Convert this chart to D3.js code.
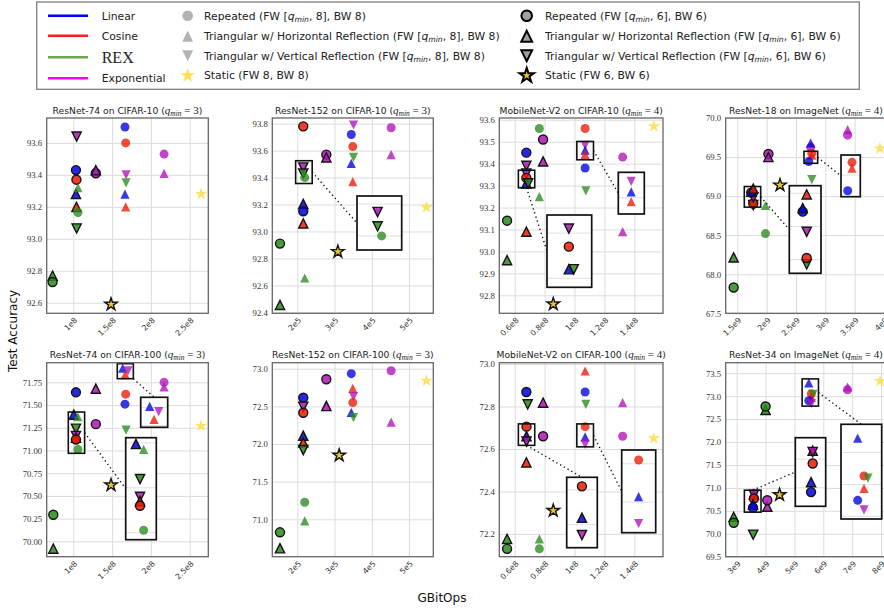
<!DOCTYPE html>
<html>
<head>
<meta charset="utf-8">
<script src="https://cdn.jsdelivr.net/npm/d3@7"></script>
<style>
  html, body { margin: 0; padding: 0; background: #fff; }
  svg { display: block; }
</style>
</head>
<body>
<svg id="chart" width="884" height="614"></svg>
<script>
// ---------------- data ----------------
// schedules (colour families) and precision schemes (marker families)
const schedules = ["Linear", "Cosine", "REX", "Exponential"];
const scheduleCodes = ["L", "C", "R", "E"];
const schemes = ["Repeated", "Triangular w/ Horizontal Reflection", "Triangular w/ Vertical Reflection", "Static"];
const schemeCodes = ["rep", "hor", "ver", "sta"];
const bitWidths = [8, 6];

const panelTitles = [
  "ResNet-74 on CIFAR-10", "ResNet-152 on CIFAR-10", "MobileNet-V2 on CIFAR-10", "ResNet-18 on ImageNet",
  "ResNet-74 on CIFAR-100", "ResNet-152 on CIFAR-100", "MobileNet-V2 on CIFAR-100", "ResNet-34 on ImageNet"
];
const qMin = [3, 3, 4, 4, 3, 3, 4, 4];

// each point: [schedule, scheme, forward bits, GBitOps, test accuracy]
const resnet74Cifar10 = [
  ["E","ver",6,1.043e8,93.64], ["L","rep",6,1.034e8,93.43], ["C","rep",6,1.04e8,93.37],
  ["L","hor",6,1.034e8,93.28], ["C","hor",6,1.04e8,93.20], ["R","ver",6,1.043e8,93.065],
  ["E","rep",6,1.29e8,93.41], ["E","hor",6,1.29e8,93.43], ["R","hor",6,0.733e8,92.77],
  ["R","rep",6,0.733e8,92.73], ["S","sta",6,1.486e8,92.59],
  ["L","rep",8,1.666e8,93.70], ["C","rep",8,1.675e8,93.60], ["E","rep",8,2.17e8,93.53],
  ["E","hor",8,2.17e8,93.41], ["E","ver",8,1.68e8,93.40], ["R","ver",8,1.68e8,93.35],
  ["L","hor",8,1.666e8,93.28], ["C","hor",8,1.675e8,93.20], ["R","hor",8,1.06e8,93.32],
  ["R","rep",8,1.06e8,93.165], ["S","sta",8,2.647e8,93.28]
];
const resnet152Cifar10 = [
  ["C","rep",6,2.16e5,93.78], ["E","rep",6,2.78e5,93.57], ["E","hor",6,2.78e5,93.55],
  ["E","ver",6,2.16e5,93.475], ["R","ver",6,2.16e5,93.43], ["L","hor",6,2.16e5,93.205],
  ["L","rep",6,2.16e5,93.15], ["C","hor",6,2.16e5,93.06], ["R","rep",6,1.535e5,92.91],
  ["R","hor",6,1.535e5,92.455], ["S","sta",6,3.09e5,92.85],
  ["E","ver",8,3.51e5,93.79], ["E","rep",8,4.52e5,93.77], ["L","rep",8,3.45e5,93.72],
  ["C","rep",8,3.49e5,93.63], ["E","hor",8,4.52e5,93.57], ["R","ver",8,3.51e5,93.55],
  ["L","hor",8,3.45e5,93.505], ["C","hor",8,3.49e5,93.37], ["R","rep",8,2.2e5,93.40],
  ["R","hor",8,2.2e5,92.655], ["S","sta",8,5.47e5,93.18]
];
const mobilenetCifar10 = [
  ["E","rep",6,0.79e8,93.51], ["L","rep",6,0.678e8,93.45], ["E","hor",6,0.79e8,93.41],
  ["E","ver",6,0.678e8,93.39], ["E","ver",6,0.678e8,93.355], ["C","rep",6,0.678e8,93.335],
  ["L","hor",6,0.678e8,93.31], ["R","ver",6,0.69e8,93.31], ["R","rep",6,0.549e8,93.14],
  ["C","hor",6,0.678e8,93.09], ["R","hor",6,0.549e8,92.96], ["S","sta",6,0.858e8,92.76],
  ["R","rep",8,0.765e8,93.56], ["C","rep",8,1.071e8,93.56], ["E","rep",8,1.322e8,93.43],
  ["L","rep",8,1.071e8,93.38], ["E","ver",8,1.071e8,93.483], ["L","hor",8,1.071e8,93.462],
  ["C","hor",8,1.071e8,93.442], ["R","ver",8,1.076e8,93.276], ["R","hor",8,0.765e8,93.25],
  ["E","hor",8,1.322e8,93.09], ["S","sta",8,1.531e8,93.57]
];
const resnet18Imagenet = [
  ["E","rep",6,2.03e9,69.54], ["E","hor",6,2.03e9,69.50], ["R","ver",6,1.772e9,68.886],
  ["C","rep",6,1.772e9,68.905], ["E","ver",6,1.772e9,68.984], ["L","rep",6,1.737e9,69.045],
  ["L","hor",6,1.737e9,69.055], ["C","hor",6,1.772e9,69.097], ["R","hor",6,1.4375e9,68.215],
  ["R","rep",6,1.4375e9,67.83], ["S","sta",6,2.227e9,69.14],
  ["E","hor",8,3.38e9,69.85], ["E","rep",8,3.38e9,69.78], ["E","rep",8,2.75e9,69.625],
  ["L","hor",8,2.75e9,69.68], ["C","rep",8,2.769e9,69.547], ["C","hor",8,2.769e9,69.525],
  ["L","rep",8,2.717e9,69.442], ["R","ver",8,2.77e9,69.21], ["R","hor",8,1.98e9,68.88],
  ["R","rep",8,1.98e9,68.52], ["S","sta",8,3.93e9,69.61]
];
const resnet74Cifar100 = [
  ["L","rep",6,1.034e8,71.64], ["E","hor",6,1.29e8,71.68], ["E","rep",6,1.29e8,71.29],
  ["L","hor",6,1.006e8,71.395], ["R","ver",6,1.034e8,71.239], ["E","ver",6,1.034e8,71.16],
  ["C","hor",6,1.034e8,71.14], ["C","rep",6,1.034e8,71.12], ["R","hor",6,0.742e8,69.92],
  ["R","rep",6,0.742e8,70.293], ["S","sta",6,1.486e8,70.62],
  ["L","hor",8,1.636e8,71.905], ["E","ver",8,1.705e8,71.876], ["C","hor",8,1.669e8,71.834],
  ["E","rep",8,2.17e8,71.75], ["E","hor",8,2.17e8,71.70], ["C","rep",8,1.675e8,71.62],
  ["L","rep",8,1.666e8,71.51], ["R","ver",8,1.68e8,71.225], ["R","hor",8,1.059e8,71.371],
  ["R","rep",8,1.059e8,71.011], ["S","sta",8,2.647e8,71.27]
];
const resnet152Cifar100 = [
  ["L","rep",6,2.16e5,72.615], ["E","rep",6,2.78e5,72.86], ["E","hor",6,2.78e5,72.505],
  ["E","ver",6,2.16e5,72.495], ["C","rep",6,2.16e5,72.415], ["L","hor",6,2.16e5,72.11],
  ["C","hor",6,2.16e5,72.02], ["R","ver",6,2.16e5,71.92], ["R","rep",6,1.535e5,70.827],
  ["R","hor",6,1.535e5,70.615], ["S","sta",6,3.125e5,71.85],
  ["L","rep",8,3.45e5,72.934], ["E","rep",8,4.52e5,72.973], ["C","hor",8,3.49e5,72.74],
  ["E","ver",8,3.51e5,72.63], ["C","rep",8,3.49e5,72.55], ["L","hor",8,3.45e5,72.42],
  ["R","ver",8,3.51e5,72.35], ["E","hor",8,4.52e5,72.29], ["R","rep",8,2.2e5,71.226],
  ["R","hor",8,2.2e5,70.98], ["S","sta",8,5.47e5,72.84]
];
const mobilenetCifar100 = [
  ["L","rep",6,0.678e8,72.868], ["E","hor",6,0.79e8,72.818], ["R","ver",6,0.687e8,72.81],
  ["E","rep",6,0.79e8,72.66], ["C","rep",6,0.679e8,72.705], ["L","hor",6,0.679e8,72.66],
  ["E","ver",6,0.679e8,72.635], ["C","hor",6,0.678e8,72.537], ["R","hor",6,0.549e8,72.177],
  ["R","rep",6,0.549e8,72.13], ["S","sta",6,0.858e8,72.31],
  ["C","hor",8,1.071e8,72.967], ["L","rep",8,1.071e8,72.868], ["R","ver",8,1.076e8,72.81],
  ["E","hor",8,1.322e8,72.818], ["C","rep",8,1.071e8,72.705], ["L","hor",8,1.071e8,72.657],
  ["E","ver",8,1.071e8,72.622], ["E","rep",8,1.322e8,72.66], ["R","hor",8,0.765e8,72.177],
  ["R","rep",8,0.765e8,72.13], ["S","sta",8,1.531e8,72.65]
];
const resnet34Imagenet = [
  ["R","hor",6,4.0e9,72.70], ["R","rep",6,4.0e9,72.775], ["C","hor",6,3.596e9,70.86],
  ["E","ver",6,3.596e9,70.85], ["C","rep",6,3.596e9,70.77], ["L","hor",6,3.565e9,70.64],
  ["L","rep",6,3.565e9,70.57], ["E","hor",6,4.06e9,70.59], ["E","rep",6,4.06e9,70.73],
  ["R","hor",6,2.896e9,70.37], ["R","rep",6,2.896e9,70.24], ["R","ver",6,3.57e9,69.98],
  ["S","sta",6,4.485e9,70.85],
  ["L","hor",8,5.498e9,73.29], ["C","rep",8,5.586e9,73.053], ["R","ver",8,5.641e9,73.04],
  ["C","hor",8,5.586e9,72.975], ["L","rep",8,5.498e9,72.90], ["E","ver",8,5.586e9,72.84],
  ["E","hor",8,6.838e9,73.2], ["E","rep",8,6.838e9,73.14], ["S","sta",8,7.965e9,73.33]
];

// tick values and labels
const xTicksCifarR74 = [1e8, 1.5e8, 2e8, 2.5e8];
const xLabelsCifarR74 = ["1e8", "1.5e8", "2e8", "2.5e8"];
const xTicksCifarR152 = [2e5, 3e5, 4e5, 5e5];
const xLabelsCifarR152 = ["2e5", "3e5", "4e5", "5e5"];
const xTicksMobile = [0.6e8, 0.8e8, 1e8, 1.2e8, 1.4e8];
const xLabelsMobile = ["0.6e8", "0.8e8", "1e8", "1.2e8", "1.4e8"];
const xTicksR18 = [1.5e9, 2e9, 2.5e9, 3e9, 3.5e9, 4e9];
const xLabelsR18 = ["1.5e9", "2e9", "2.5e9", "3e9", "3.5e9", "4e9"];
const xTicksR34 = [3e9, 4e9, 5e9, 6e9, 7e9, 8e9];
const xLabelsR34 = ["3e9", "4e9", "5e9", "6e9", "7e9", "8e9"];

const yLabels1 = ["92.6", "92.8", "93.0", "93.2", "93.4", "93.6"];
const yLabels2 = ["92.4", "92.6", "92.8", "93.0", "93.2", "93.4", "93.6", "93.8"];
const yLabels3 = ["92.8", "92.9", "93.0", "93.1", "93.2", "93.3", "93.4", "93.5", "93.6"];
const yLabels4 = ["67.5", "68.0", "68.5", "69.0", "69.5", "70.0"];
const yLabels5 = ["70.00", "70.25", "70.50", "70.75", "71.00", "71.25", "71.50", "71.75"];
const yLabels6 = ["71.0", "71.5", "72.0", "72.5", "73.0"];
const yLabels7 = ["72.2", "72.4", "72.6", "72.8", "73.0"];
const yLabels8 = ["69.5", "70.0", "70.5", "71.0", "71.5", "72.0", "72.5", "73.0", "73.5"];

// ---------------- layout & style ----------------
const svg = d3.select("#chart");
svg.append("rect").attr("width", 884).attr("height", 614).attr("fill", "#fff");
const defs = svg.append("defs");

const colX = [[46.7, 208.3], [272.3, 433.3], [499.3, 663], [725.7, 888]];
const rowY = [[118, 313.3], [362.7, 556.7]];
const xDomains = [
  [0.657e8, 2.74e8], [1.3285e5, 5.653e5], [0.497e8, 1.592e8], [1.302e9, 4.068e9],
  [0.657e8, 2.74e8], [1.3285e5, 5.653e5], [0.497e8, 1.592e8], [2.619e9, 8.24e9]
];
const yDomains = [
  [92.534, 93.756], [92.393, 93.842], [92.718, 93.608], [67.5, 70.0],
  [69.831, 71.966], [70.503, 73.08], [72.093, 73.006], [69.5, 73.73]
];
// zoomed views: source window in data units, target box in pixels, connector sides
const insetLayouts = [
  [],
  [{ src: [1.955e5, 2.40e5, 93.356, 93.525], dst: [357, 196, 401.7, 250], from: "r", to: "l" }],
  [{ src: [0.6245e8, 0.734e8, 93.29, 93.37], dst: [547, 215, 591.7, 287.3], from: "b", to: "l" },
   { src: [1.0156e8, 1.127e8, 93.4175, 93.501], dst: [618.3, 172.3, 644.3, 214], from: "r", to: "l" }],
  [{ src: [1.619e9, 1.898e9, 68.859, 69.123], dst: [789.3, 185.7, 821, 273.3], from: "r", to: "l" },
   { src: [2.636e9, 2.869e9, 69.42, 69.574], dst: [841, 155, 860.3, 196.7], from: "r", to: "l" }],
  [{ src: [0.9355e8, 1.146e8, 70.969, 71.423], dst: [125.7, 437.7, 156.3, 539.7], from: "r", to: "l" },
   { src: [1.567e8, 1.774e8, 71.79, 71.955], dst: [140.7, 397.3, 167.7, 427.3], from: "br", to: "t" }],
  [],
  [{ src: [0.6245e8, 0.734e8, 72.617, 72.718], dst: [566.7, 477.3, 597.3, 547.7], from: "b", to: "t" },
   { src: [1.0156e8, 1.127e8, 72.61, 72.718], dst: [621.7, 450, 655.7, 532.7], from: "r", to: "l" }],
  [{ src: [3.266e9, 3.843e9, 70.471, 70.95], dst: [795.3, 437.7, 825.7, 506.3], from: "t", to: "l" },
   { src: [5.266e9, 5.832e9, 72.783, 73.377], dst: [841, 424.3, 881.7, 519], from: "r", to: "t" }]
];

const markerColor = { L: "#0000e0", C: "#ea1a05", R: "#2a8a1c", E: "#b012b8" };
const legendLineColor = ["#0000ff", "#ff1f1f", "#6aa84f", "#ff00ff"];
const SANS = "DejaVu Sans, Verdana, sans-serif";
const SERIF = "Liberation Serif, Times New Roman, serif";

// marker shapes (matplotlib-like square-bbox triangles)
const triUp = { draw(ctx, size) { const h = Math.sqrt(size) / 2; ctx.moveTo(0, -h); ctx.lineTo(h, h); ctx.lineTo(-h, h); ctx.closePath(); } };
const triDown = { draw(ctx, size) { const h = Math.sqrt(size) / 2; ctx.moveTo(0, h); ctx.lineTo(h, -h); ctx.lineTo(-h, -h); ctx.closePath(); } };
const symbolTypes = { rep: d3.symbolCircle, hor: triUp, ver: triDown, sta: d3.symbolStar };
const symbolSizes = { rep: Math.PI * 4.5 * 4.5, hor: 9.2 * 9.2, ver: 9.2 * 9.2, sta: 6.6 * 6.6 / 0.8908130915 };

function markerPath(scheme, k) {
  return d3.symbol().type(symbolTypes[scheme]).size(symbolSizes[scheme] * k * k)();
}
function styleMarker(sel) {
  sel.attr("fill", d => d[1] === "sta" ? (d[2] === 6 ? "#ebc42c" : "#ffd83a") : markerColor[d[0]])
     .attr("fill-opacity", d => d[1] === "sta" ? (d[2] === 6 ? 1 : 0.78) : (d[2] === 6 ? 0.85 : 0.78))
     .attr("stroke", d => d[2] === 6 ? "#141414" : "none")
     .attr("stroke-width", d => d[2] === 6 ? 1.4 : 0);
}
function drawMarkers(g, pts, x, y, clipId) {
  g.append("g").attr("clip-path", `url(#${clipId})`)
    .selectAll("path").data(pts).join("path")
    .attr("transform", d => `translate(${x(d[3])},${y(d[4])})`)
    .attr("d", d => markerPath(d[1], 1))
    .call(styleMarker);
}
function anchorPoint(b, side) {
  const [x0, y0, x1, y1] = b;
  const cx = (x0 + x1) / 2, cy = (y0 + y1) / 2;
  if (side === "r") return [x1, cy];
  if (side === "l") return [x0, cy];
  if (side === "t") return [cx, y0];
  if (side === "b") return [cx, y1];
  if (side === "br") return [x1, y1];
  return [cx, cy];
}

function drawPanel(idx, pts, xTicks, xLabels, yLabels) {
  const col = idx % 4, row = Math.floor(idx / 4);
  const [x0, x1] = colX[col], [y0, y1] = rowY[row];
  const x = d3.scaleLinear().domain(xDomains[idx]).range([x0, x1]);
  const y = d3.scaleLinear().domain(yDomains[idx]).range([y1, y0]);
  const yTicks = yLabels.map(Number);
  const g = svg.append("g");

  const clipId = "clip-main-" + idx;
  defs.append("clipPath").attr("id", clipId).append("rect")
    .attr("x", x0).attr("y", y0).attr("width", x1 - x0).attr("height", y1 - y0);

  // grid + tick labels (bottom)
  const gx = g.append("g").attr("transform", `translate(0,${y1})`)
    .call(d3.axisBottom(x).tickValues(xTicks).tickSize(-(y1 - y0)).tickFormat((d, i) => xLabels[i]));
  gx.select(".domain").remove();
  gx.selectAll(".tick line").attr("stroke", "#dcdcdc").attr("stroke-width", 1);
  gx.selectAll(".tick text")
    .attr("font-family", SANS).attr("font-size", 7.8).attr("fill", "#333")
    .attr("text-anchor", "end").attr("x", 4).attr("y", 7.5).attr("dy", 0)
    .attr("transform", "rotate(-45,4,7.5)");

  // grid + tick labels (left)
  const gy = g.append("g").attr("transform", `translate(${x0},0)`)
    .call(d3.axisLeft(y).tickValues(yTicks).tickSize(-(x1 - x0)).tickFormat((d, i) => yLabels[i]));
  gy.select(".domain").remove();
  gy.selectAll(".tick line").attr("stroke", "#dcdcdc").attr("stroke-width", 1);
  gy.selectAll(".tick text")
    .attr("font-family", SERIF).attr("font-size", 8.7).attr("fill", "#333")
    .attr("x", -4.5).attr("dy", "0.33em");

  drawMarkers(g, pts, x, y, clipId);

  // zoomed views
  insetLayouts[idx].forEach((ins, k) => {
    const [sx0, sx1, sy0, sy1] = ins.src;
    const [dx0, dy0, dx1, dy1] = ins.dst;
    const small = [x(sx0), y(sy1), x(sx1), y(sy0)];
    const a = anchorPoint(small, ins.from), b = anchorPoint(ins.dst, ins.to);
    g.append("line").attr("x1", a[0]).attr("y1", a[1]).attr("x2", b[0]).attr("y2", b[1])
      .attr("stroke", "#111").attr("stroke-width", 1.4).attr("stroke-dasharray", "1.3,3");
    g.append("rect").attr("x", small[0]).attr("y", small[1])
      .attr("width", small[2] - small[0]).attr("height", small[3] - small[1])
      .attr("fill", "none").attr("stroke", "#111").attr("stroke-width", 1.6);

    const xi = d3.scaleLinear().domain([sx0, sx1]).range([dx0, dx1]);
    const yi = d3.scaleLinear().domain([sy0, sy1]).range([dy1, dy0]);
    const icid = `clip-inset-${idx}-${k}`;
    defs.append("clipPath").attr("id", icid).append("rect")
      .attr("x", dx0).attr("y", dy0).attr("width", dx1 - dx0).attr("height", dy1 - dy0);
    const gi = g.append("g");
    gi.append("rect").attr("x", dx0).attr("y", dy0).attr("width", dx1 - dx0).attr("height", dy1 - dy0)
      .attr("fill", "#fff");
    gi.append("g").attr("clip-path", `url(#${icid})`)
      .selectAll("line").data(yi.ticks(2)).join("line")
      .attr("x1", dx0).attr("x2", dx1).attr("y1", d => yi(d)).attr("y2", d => yi(d))
      .attr("stroke", "#e0e0e0").attr("stroke-width", 1);
    drawMarkers(gi, pts, xi, yi, icid);
    gi.append("rect").attr("x", dx0).attr("y", dy0).attr("width", dx1 - dx0).attr("height", dy1 - dy0)
      .attr("fill", "none").attr("stroke", "#111").attr("stroke-width", 1.7);
  });

  // frame
  g.append("rect").attr("x", x0).attr("y", y0).attr("width", x1 - x0).attr("height", y1 - y0)
    .attr("fill", "none").attr("stroke", "#666").attr("stroke-width", 1.3);

  // title with math part
  const t = g.append("text").attr("x", (x0 + Math.min(x1, 884)) / 2 + (col === 3 ? 1 : 0)).attr("y", y0 - 4.5)
    .attr("text-anchor", "middle").attr("font-family", SANS).attr("font-size", 9.2).attr("fill", "#222");
  t.append("tspan").text(panelTitles[idx] + " (");
  t.append("tspan").attr("font-family", SERIF).attr("font-style", "italic").attr("font-size", 11).text("q");
  t.append("tspan").attr("font-family", SERIF).attr("font-style", "italic").attr("font-size", 7.5).attr("dy", 2).text("min");
  t.append("tspan").attr("font-family", SERIF).attr("font-size", 11).attr("dy", -2).text(" = " + qMin[idx]);
  t.append("tspan").text(")");
}

const panelData = [resnet74Cifar10, resnet152Cifar10, mobilenetCifar10, resnet18Imagenet,
                   resnet74Cifar100, resnet152Cifar100, mobilenetCifar100, resnet34Imagenet];
const panelXTicks = [xTicksCifarR74, xTicksCifarR152, xTicksMobile, xTicksR18,
                     xTicksCifarR74, xTicksCifarR152, xTicksMobile, xTicksR34];
const panelXLabels = [xLabelsCifarR74, xLabelsCifarR152, xLabelsMobile, xLabelsR18,
                      xLabelsCifarR74, xLabelsCifarR152, xLabelsMobile, xLabelsR34];
const panelYLabels = [yLabels1, yLabels2, yLabels3, yLabels4, yLabels5, yLabels6, yLabels7, yLabels8];

panelData.forEach((pts, i) => drawPanel(i, pts, panelXTicks[i], panelXLabels[i], panelYLabels[i]));

// axis titles
svg.append("text").attr("transform", "translate(16.5,331) rotate(-90)")
  .attr("text-anchor", "middle").attr("font-family", SANS).attr("font-size", 12).attr("fill", "#111")
  .text("Test Accuracy");
svg.append("text").attr("x", 442).attr("y", 602)
  .attr("text-anchor", "middle").attr("font-family", SANS).attr("font-size", 12).attr("fill", "#111")
  .text("GBitOps");

// ---------------- legend ----------------
const lg = svg.append("g");
lg.append("rect").attr("x", 36.7).attr("y", 2).attr("width", 822.6).attr("height", 87.3)
  .attr("fill", "#fff").attr("stroke", "#7d7d7d").attr("stroke-width", 1.3);

const lineRows = [15.7, 35.7, 57.3, 78.3];
schedules.forEach((s, i) => {
  lg.append("line").attr("x1", 48).attr("x2", 88).attr("y1", lineRows[i]).attr("y2", lineRows[i])
    .attr("stroke", legendLineColor[i]).attr("stroke-width", 2.6);
  const isRex = s === "REX";
  lg.append("text").attr("x", 101.7).attr("y", lineRows[i]).attr("dy", isRex ? "0.34em" : "0.36em")
    .attr("font-family", isRex ? SERIF : SANS).attr("font-size", isRex ? 16 : 10.8).attr("fill", "#222")
    .text(s);
});

const schemeRows = [15.8, 36.2, 55.8, 75.5];
const legendCols = [{ mx: 187.7, tx: 204 }, { mx: 526.7, tx: 545 }];
bitWidths.forEach((bits, c) => {
  const { mx, tx } = legendCols[c];
  schemes.forEach((name, r) => {
    const code = schemeCodes[r];
    const yy = schemeRows[r];
    const isStatic = code === "sta";
    lg.append("path")
      .attr("transform", `translate(${mx},${yy})`)
      .attr("d", markerPath(code, isStatic ? 1.15 : 1.18))
      .attr("fill", isStatic ? (bits === 6 ? "#ebc42c" : "#ffd83a") : (bits === 6 ? "#a0a0a0" : "#b3b3b3"))
      .attr("fill-opacity", isStatic && bits === 8 ? 0.85 : 1)
      .attr("stroke", bits === 6 ? "#000" : "none")
      .attr("stroke-width", bits === 6 ? 2 : 0);
    const t = lg.append("text").attr("x", tx).attr("y", yy).attr("dy", "0.36em")
      .attr("font-family", SANS).attr("font-size", 10.8).attr("fill", "#222");
    if (isStatic) {
      t.text(`${name} (FW ${bits}, BW ${bits})`);
    } else {
      t.append("tspan").text(`${name} (FW [`);
      t.append("tspan").attr("font-style", "italic").text("q");
      t.append("tspan").attr("font-style", "italic").attr("font-size", 7.6).attr("dy", 2.4).text("min");
      t.append("tspan").attr("dy", -2.4).text(`, ${bits}], BW ${bits})`);
    }
  });
});
</script>
</body>
</html>
